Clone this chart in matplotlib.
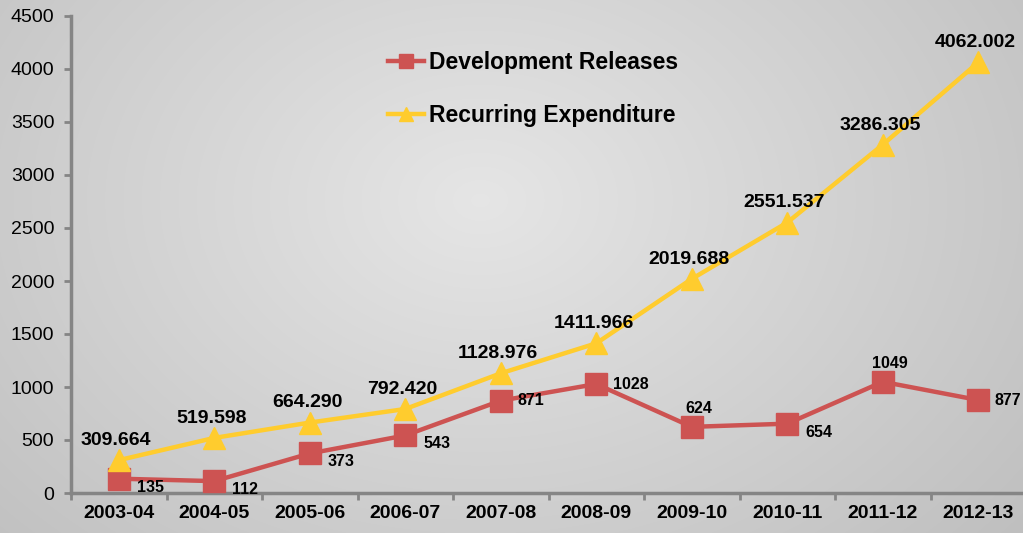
import numpy as np
import matplotlib
matplotlib.use("Agg")
import matplotlib.pyplot as plt

plt.rcParams['font.family'] = ['Liberation Sans', 'DejaVu Sans']

years = ['2003-04', '2004-05', '2005-06', '2006-07', '2007-08',
         '2008-09', '2009-10', '2010-11', '2011-12', '2012-13']
development = [135, 112, 373, 543, 871, 1028, 624, 654, 1049, 877]
recurring = [309.664, 519.598, 664.290, 792.420, 1128.976,
             1411.966, 2019.688, 2551.537, 3286.305, 4062.002]
rec_labels = ['309.664', '519.598', '664.290', '792.420', '1128.976',
              '1411.966', '2019.688', '2551.537', '3286.305', '4062.002']
# where each Development label sits relative to its marker
dev_place = ['below', 'below', 'below', 'below', 'right',
             'right', 'above', 'below', 'above', 'right']

red = '#CD5352'
yellow = '#FFCC2E'
axis_gray = '#858585'

fig = plt.figure(figsize=(10.23, 5.33), dpi=100)

# radial gradient background
bg = fig.add_axes([0, 0, 1, 1])
yy, xx = np.mgrid[0:533, 0:1023]
r = np.sqrt(((xx - 480) / 700.0) ** 2 + ((yy - 200) / 520.0) ** 2)
shade = 0.90 - 0.18 * np.clip(r, 0, 1.2) / 1.2
bg.imshow(np.dstack([shade, shade, shade]), aspect='auto', extent=[0, 1, 0, 1])
bg.axis('off')

ax = fig.add_axes([71 / 1023, 1 - 493 / 533, (1026 - 71) / 1023, (493 - 16) / 533])
ax.patch.set_alpha(0)
x = np.arange(len(years))

ax.plot(x, development, color=red, lw=3.2, marker='s', ms=16,
        label='Development Releases', zorder=3)
ax.plot(x, recurring, color=yellow, lw=3.2, marker='^', ms=16,
        label='Recurring Expenditure', zorder=3)

offsets = {'below': (13, -6, 'left'), 'right': (12, 0, 'left'),
           'above': (5, 13, 'center')}
for xi, v, p in zip(x, development, dev_place):
    dx, dy, ha = offsets[p]
    ax.annotate(str(v), (xi, v), xytext=(dx, dy), textcoords='offset points',
                fontsize=11.5, fontweight='bold', ha=ha, va='center')
for xi, v, s in zip(x, recurring, rec_labels):
    ax.annotate(s, (xi, v), xytext=(-2, 8), textcoords='offset points',
                fontsize=14, fontweight='bold', ha='center', va='bottom')

ax.set_xlim(-0.5, 9.5)
ax.set_ylim(0, 4500)
ax.set_yticks(np.arange(0, 4501, 500))
ax.tick_params(axis='y', labelsize=14, colors=axis_gray, labelcolor='black',
               length=5, width=2, direction='out', pad=7)
ax.set_xticks(np.arange(-0.5, 9.5, 1.0))
ax.set_xticklabels([])
ax.set_xticks(x, minor=True)
ax.set_xticklabels(years, minor=True, fontsize=14, fontweight='bold')
ax.tick_params(axis='x', which='major', colors=axis_gray, length=5, width=2)
ax.tick_params(axis='x', which='minor', length=0, pad=9)

for side in ['top', 'right']:
    ax.spines[side].set_visible(False)
for side in ['left', 'bottom']:
    ax.spines[side].set_color(axis_gray)
    ax.spines[side].set_linewidth(2.5)

ax.legend(loc='upper left', bbox_to_anchor=(0.31, 0.97), frameon=False,
          prop={'size': 16.5, 'weight': 'bold'}, handlelength=1.6,
          handletextpad=0.2, labelspacing=1.3, markerscale=0.65)

fig.savefig('out.png', dpi=100)
